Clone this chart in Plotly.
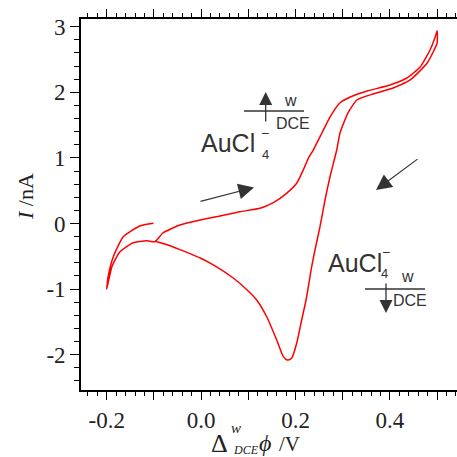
import plotly.graph_objects as go

# ---- data ----
potential_V = [-0.101, -0.130, -0.165, -0.186, -0.197, -0.200,
               -0.189, -0.172, -0.144, -0.115, -0.098,
               -0.081, -0.060, -0.045, -0.002, 0.040, 0.082, 0.125, 0.153, 0.181,
               0.2025, 0.2165, 0.2271, 0.2377, 0.256, 0.273, 0.294, 0.316, 0.352,
               0.400, 0.436, 0.464, 0.485, 0.496, 0.500,
               0.500, 0.479, 0.443, 0.407, 0.364, 0.330, 0.311, 0.2943, 0.2873,
               0.2731, 0.2625, 0.2519, 0.2413, 0.2343, 0.2223, 0.2131, 0.2025,
               0.1919, 0.1826, 0.1742, 0.1602, 0.1390, 0.1178, 0.097, 0.068,
               0.025, -0.002, -0.045, -0.072, -0.098]
current_nA = [0.003, -0.038, -0.201, -0.506, -0.811, -1.003,
              -0.659, -0.430, -0.293, -0.262, -0.277,
              -0.145, -0.069, -0.023, 0.053, 0.115, 0.180, 0.232, 0.317, 0.460,
              0.613, 0.816, 0.994, 1.120, 1.380, 1.623, 1.837, 1.928, 2.020,
              2.111, 2.218, 2.386, 2.645, 2.843, 2.939,
              2.752, 2.447, 2.188, 2.066, 1.974, 1.883, 1.684, 1.380, 1.120,
              0.713, 0.358, -0.049, -0.404, -0.659, -1.166, -1.471, -1.826,
              -2.055, -2.081, -2.030, -1.776, -1.421, -1.166, -1.009, -0.831,
              -0.628, -0.526, -0.399, -0.323, -0.271]

x_tickvals = [-0.2, -0.1, 0.0, 0.1, 0.2, 0.3, 0.4, 0.5]
x_ticktext = ["-0.2", "", "0.0", "", "0.2", "", "0.4", ""]
y_tickvals = [-2, -1, 0, 1, 2, 3]
y_ticktext = ["-2", "-1", "0", "1", "2", "3"]

# ---- pixel -> data / paper helpers for decorations ----
def X(px):
    return -0.2 + (px - 106.7) / 472.0

def Y(py):
    return (223.5 - py) / 65.6

def PX(px):
    return (px - 81) / 376.0

def PY(py):
    return (390 - py) / 371.0

fig = go.Figure()
fig.add_trace(go.Scatter(x=potential_V, y=current_nA, mode="lines",
                         line=dict(color="#ff0000", width=1.5, shape="spline", smoothing=0.5),
                         showlegend=False, hoverinfo="skip"))

serif = "Liberation Serif"
sans = "Liberation Sans"

fig.update_xaxes(range=[X(81), X(457)], showline=True, linecolor="black", linewidth=1.6,
                 mirror="ticks", ticks="outside", ticklen=8, tickwidth=1.4, tickcolor="black",
                 tickvals=x_tickvals, ticktext=x_ticktext,
                 minor=dict(dtick=0.02, tick0=0, ticks="outside", ticklen=4, tickwidth=1.2, tickcolor="black"),
                 showgrid=False, zeroline=False, ticklabelstandoff=1,
                 tickfont=dict(family=serif, size=23, color="#222"))
fig.update_yaxes(range=[Y(390), Y(19)], showline=True, linecolor="black", linewidth=1.6,
                 mirror=False, ticks="outside", ticklen=9, tickwidth=1.4, tickcolor="black",
                 tickvals=y_tickvals, ticktext=y_ticktext,
                 minor=dict(dtick=0.2, tick0=0, ticks="outside", ticklen=5, tickwidth=1.2, tickcolor="black"),
                 showgrid=False, zeroline=False,
                 tickfont=dict(family=serif, size=23, color="#222"))

ann = []
def txt(px, py, text, size, family=sans, xanchor="center", yanchor="middle", color="#333",
        angle=0, paper=False):
    ann.append(dict(x=PX(px) if paper else X(px), y=PY(py) if paper else Y(py),
                    xref="paper" if paper else "x", yref="paper" if paper else "y",
                    text=text, showarrow=False, borderpad=0,
                    font=dict(family=family, size=size, color=color),
                    xanchor=xanchor, yanchor=yanchor, textangle=angle))

def arrow(tx, ty, hx, hy, width=1.3, size=1.6, color="#333"):
    ann.append(dict(x=X(hx), y=Y(hy), ax=X(tx), ay=Y(ty), xref="x", yref="y",
                    axref="x", ayref="y", text="", showarrow=True, arrowhead=2,
                    arrowsize=size, arrowwidth=width, arrowcolor=color))

# upper label
txt(200, 143, "AuCl", 25, xanchor="left")
txt(265, 133, "\u2212", 14)
txt(265, 154, "4", 13)
arrow(265.7, 123, 265.7, 92, width=1.3, size=2.0)
txt(283, 100, "w", 16, xanchor="left")
txt(275, 123, "DCE", 16, xanchor="left")

# lower label
txt(327, 263, "AuCl", 25, xanchor="left")
txt(386, 252, "\u2212", 14)
txt(384, 273, "4", 13)
txt(407, 276, "w", 16)
arrow(386, 282, 386, 313, width=1.3, size=2.0)
txt(392, 300, "DCE", 16, xanchor="left")

# scan direction arrows
arrow(199, 201.7, 254, 187.5, width=1.2, size=2.6)
arrow(419, 158, 376, 190, width=1.2, size=2.6)

# axis titles
txt(25, 197, "<i>I</i> /nA", 22, family=serif, angle=-90, color="#222", paper=True)
txt(219, 443, "\u0394", 26, family=serif, color="#222", paper=True)
txt(236, 428, "<i>w</i>", 15, family=serif, color="#222", paper=True)
txt(232, 450, "<i>DCE</i>", 12, family=serif, color="#222", paper=True, xanchor="left")
txt(265, 443, "<i>\u03d5</i>", 24, family=serif, color="#222", paper=True)
txt(289, 444, "/V", 21, family=serif, color="#222", paper=True)

fig.update_layout(annotations=ann, width=457, height=457,
                  margin=dict(l=81, r=0, t=19, b=67, autoexpand=False),
                  plot_bgcolor="white", paper_bgcolor="white")

shapes = [dict(type="line", xref="x", yref="y", x0=X(244), x1=X(304), y0=Y(111), y1=Y(111),
               line=dict(color="#333", width=1.3)),
          dict(type="line", xref="x", yref="y", x0=X(365), x1=X(425), y0=Y(289), y1=Y(289),
               line=dict(color="#333", width=1.3))]
fig.update_layout(shapes=shapes)

fig.write_html("out.html")
